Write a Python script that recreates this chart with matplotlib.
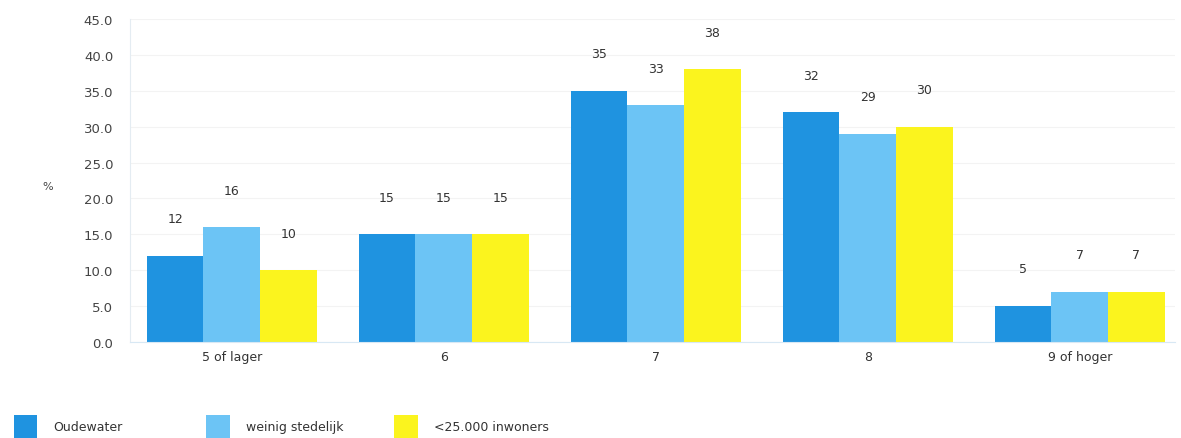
import matplotlib
matplotlib.use("Agg")
import matplotlib.pyplot as plt
import numpy as np

categories = ["5 of lager", "6", "7", "8", "9 of hoger"]
series_names = ["Oudewater", "weinig stedelijk", "<25.000 inwoners"]
oudewater = [12, 15, 35, 32, 5]
weinig_stedelijk = [16, 15, 33, 29, 7]
klein = [10, 15, 38, 30, 7]
yticks = [0, 5, 10, 15, 20, 25, 30, 35, 40, 45]

colors = ["#1f93e0", "#6cc4f5", "#fbf41e"]
series = [oudewater, weinig_stedelijk, klein]

fig = plt.figure(figsize=(11.81, 4.39), dpi=100)
ax = fig.add_axes([0.110, 0.219, 0.885, 0.735])

x = np.arange(len(categories))
w = 0.267
for i, (vals, col, name) in enumerate(zip(series, colors, series_names)):
    pos = x + (i - 1) * w
    bars = ax.bar(pos, vals, width=w, color=col, label=name, edgecolor="none")
    for b, v in zip(bars, vals):
        ax.annotate(str(v), (b.get_x() + b.get_width() / 2, v),
                    xytext=(0, 22), textcoords="offset points",
                    ha="center", va="bottom", fontsize=9, color="#333333")

ax.set_xlim(-0.48, 4.45)
ax.set_ylim(0, 45)
ax.set_yticks(yticks)
ax.set_yticklabels([f"{t:.1f}" for t in yticks], fontsize=9.5, color="#444444")
ax.set_xticks(x)
ax.set_xticklabels(categories, fontsize=9, color="#333333")
ax.tick_params(axis="both", length=0, pad=6)
ax.tick_params(axis="y", pad=12)
ax.yaxis.grid(True, color="#f3f3f3", linewidth=0.8)
ax.set_axisbelow(True)
for s in ["top", "right"]:
    ax.spines[s].set_visible(False)
ax.spines["left"].set_color("#e4ecf2")
ax.spines["bottom"].set_color("#d8e8f4")
fig.text(0.040, 0.575, "%", fontsize=8, color="#444444", ha="center", va="center")

handles, labels = ax.get_legend_handles_labels()
leg_x = [0.002, 0.165, 0.324]
for h, l, lx in zip(handles, labels, leg_x):
    fig.legend([h], [l], loc="lower left", bbox_to_anchor=(lx, -0.025),
               frameon=False, fontsize=9, handlelength=1.9, handleheight=2.4,
               handletextpad=1.3, labelcolor="#333333")

fig.savefig("out.png", dpi=100)
